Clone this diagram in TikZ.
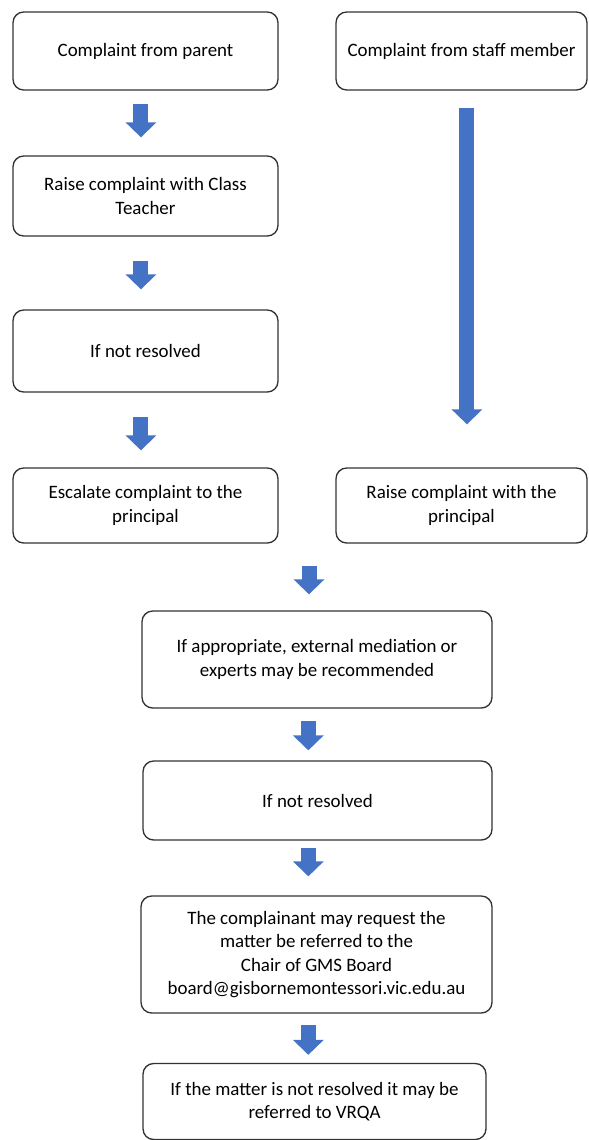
\documentclass[tikz,border=0pt]{standalone}
\usepackage{fontspec}
\setmainfont{Carlito}
\usetikzlibrary{arrows.meta}

\definecolor{flowblue}{HTML}{4472C4}
\definecolor{boxline}{HTML}{333333}

\tikzset{every picture/.style={line width=0.75pt}}
\tikzset{
  stepbox/.style={draw=boxline, line width=1pt, rounded corners=8pt, align=center,
    inner sep=0.75pt, font=\fontsize{14.2}{17.5}\selectfont},
  downarrow/.style={draw=flowblue, line width=11.25pt,
    -{Triangle[width=22.5pt, length=11.25pt]}}
}

\begin{document}
\begin{tikzpicture}[x=0.75pt,y=0.75pt,yscale=-1,xscale=1]
\useasboundingbox (0,0) rectangle (589,1140);
%Shape: Rounded Rect [id:parent] 
\draw (145.5,51) node [stepbox, minimum width=198.75pt, minimum height=58.5pt] (parent) {Complaint from parent};
%Shape: Rounded Rect [id:staff] 
\draw (461.5,51) node [stepbox, minimum width=188.25pt, minimum height=58.5pt] (staff) {Complaint from staff member};
%Shape: Rounded Rect [id:teacher] 
\draw (145.5,196) node [stepbox, minimum width=198.75pt, minimum height=60pt] (teacher) {Raise complaint with Class\\Teacher};
%Shape: Rounded Rect [id:notres1] 
\draw (145.5,351) node [stepbox, minimum width=198.75pt, minimum height=61.5pt] (notres1) {If not resolved};
%Shape: Rounded Rect [id:escalate] 
\draw (145.5,505.5) node [stepbox, minimum width=198.75pt, minimum height=56.25pt] (escalate) {Escalate complaint to the\\principal};
%Shape: Rounded Rect [id:principal] 
\draw (461.5,505.5) node [stepbox, minimum width=188.25pt, minimum height=56.25pt] (principal) {Raise complaint with the\\principal};
%Shape: Rounded Rect [id:mediation] 
\draw (317,659.5) node [stepbox, minimum width=262.5pt, minimum height=72.75pt] (mediation) {If appropriate, external mediation or\\experts may be recommended};
%Shape: Rounded Rect [id:notres2] 
\draw (317.5,800.5) node [stepbox, minimum width=261.75pt, minimum height=59.25pt] (notres2) {If not resolved};
%Shape: Rounded Rect [id:board] 
\draw (316.5,954.5) node [stepbox, minimum width=263.25pt, minimum height=87.75pt] (board) {The complainant may request the\\matter be referred to the\\Chair of GMS Board\\board@gisbornemontessori.vic.edu.au};
%Shape: Rounded Rect [id:vrqa] 
\draw (314.5,1101.5) node [stepbox, minimum width=257.25pt, minimum height=57pt] (vrqa) {If the matter is not resolved it may be\\referred to VRQA};

%Block Arrows
\draw [downarrow, shorten <=9.75pt, shorten >=13.5pt] ([xshift=-3.4pt]parent.south) -- ([xshift=-3.4pt]teacher.north);
\draw [downarrow, shorten <=18pt, shorten >=15pt] ([xshift=-3.4pt]teacher.south) -- ([xshift=-3.4pt]notres1.north);
\draw [downarrow, shorten <=18pt, shorten >=12.75pt] ([xshift=-3.4pt]notres1.south) -- ([xshift=-3.4pt]escalate.north);
\draw [downarrow, shorten <=12.75pt, shorten >=32.25pt] ([xshift=4.1pt]staff.south) -- ([xshift=4.1pt]principal.north);
\draw [downarrow, shorten <=16.5pt, shorten >=12pt] ([xshift=-6pt]mediation.north |- escalate.south) -- ([xshift=-6pt]mediation.north);
\draw [downarrow, shorten <=9pt, shorten >=7.5pt] ([xshift=-6.5pt]mediation.south) -- ([xshift=-6.5pt]mediation.south |- notres2.north);
\draw [downarrow, shorten <=5.25pt, shorten >=14.25pt] ([xshift=-6.5pt]mediation.south |- notres2.south) -- ([xshift=-6.5pt]mediation.south |- board.north);
\draw [downarrow, shorten <=8.25pt, shorten >=6pt] ([xshift=-6.5pt]mediation.south |- board.south) -- ([xshift=-6.5pt]mediation.south |- vrqa.north);
\end{tikzpicture}
\end{document}
